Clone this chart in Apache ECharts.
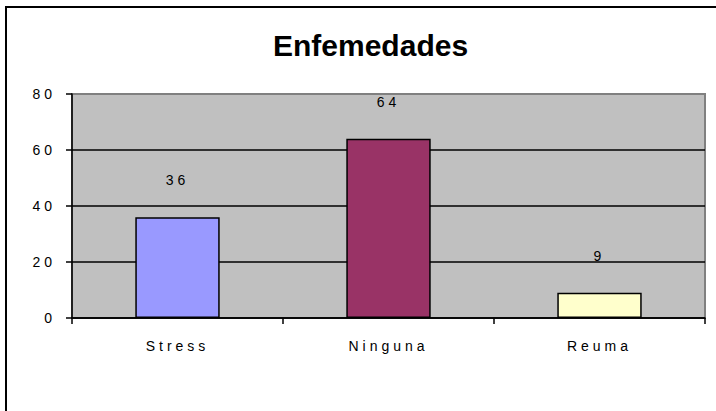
<!DOCTYPE html>
<html>
<head>
<meta charset="utf-8">
<title>Enfemedades</title>
<script src="https://cdn.jsdelivr.net/npm/echarts@6/dist/echarts.min.js"></script>
<style>
  html, body { margin: 0; padding: 0; background: #fff; }
  #chart { width: 716px; height: 411px; }
</style>
</head>
<body>
<div id="chart"></div>
<script>
  // categorias y valores
  const categories = ['Stress', 'Ninguna', 'Reuma']
  const values = [36, 64, 9]
  const barColors = ['#9999FF', '#993366', '#FFFFCC']
  const yTicks = [0, 20, 40, 60, 80]
  const titleText = 'Enfemedades'

  const chart = echarts.init(document.getElementById('chart'), null, { renderer: 'svg' })

  chart.setOption({
    animation: false,
    title: {
      text: titleText,
      left: 268,
      top: 25,
      textStyle: {
        fontFamily: 'Liberation Sans',
        fontSize: 30,
        fontWeight: 'bold',
        color: '#000'
      }
    },
    // marco exterior
    graphic: [{
      type: 'rect',
      shape: { x: 6, y: 7, width: 740, height: 440 },
      style: { fill: 'none', stroke: '#000', lineWidth: 2 },
      silent: true
    }],
    grid: {
      left: 72,
      right: 11,
      top: 94,
      bottom: 93,
      show: true,
      backgroundColor: '#C0C0C0',
      borderColor: '#808080',
      borderWidth: 2
    },
    xAxis: {
      type: 'category',
      data: categories,
      axisLine: { lineStyle: { color: '#000', width: 1.5 } },
      axisTick: { show: true, length: 6, lineStyle: { color: '#000', width: 1.5 } },
      axisLabel: {
        margin: 21,
        fontFamily: 'Liberation Sans',
        fontSize: 14,
        color: '#000'
      }
    },
    yAxis: {
      type: 'value',
      min: yTicks[0],
      max: yTicks[yTicks.length - 1],
      interval: 20,
      axisLine: { show: true, lineStyle: { color: '#000', width: 1.5 } },
      axisTick: { show: true, length: 6, lineStyle: { color: '#000', width: 1.5 } },
      splitLine: { showMaxLine: false, lineStyle: { color: '#000', width: 1.5 } },
      axisLabel: {
        margin: 16,
        fontFamily: 'Liberation Sans',
        fontSize: 14,
        color: '#000'
      }
    },
    series: [{
      type: 'bar',
      barWidth: '40%',
      data: values.map((v, i) => ({
        value: v,
        itemStyle: { color: barColors[i] }
      })),
      itemStyle: { borderColor: '#000', borderWidth: 1.5 },
      label: {
        show: true,
        position: 'top',
        distance: 30,
        fontFamily: 'Liberation Sans',
        fontSize: 14,
        color: '#000'
      }
    }]
  })

  // espaciado de letras como en el original (excepto el titulo)
  document.querySelectorAll('#chart text').forEach(t => {
    if (t.textContent !== titleText) {
      t.style.letterSpacing = '4px'
    }
  })
</script>
</body>
</html>
